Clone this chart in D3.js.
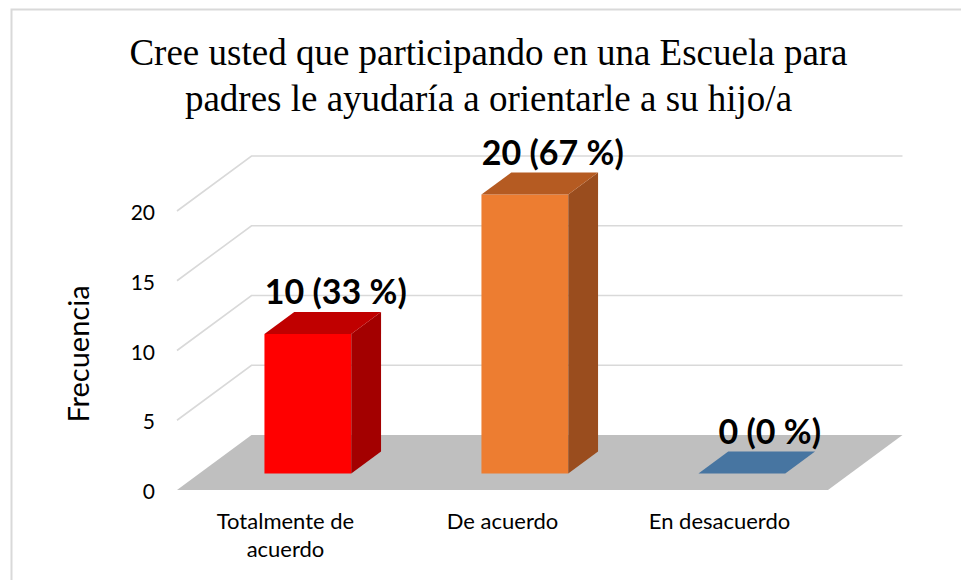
<!DOCTYPE html>
<html><head><meta charset="utf-8">
<script src="https://cdn.jsdelivr.net/npm/d3@7"></script>
<style>
html,body{margin:0;padding:0;background:#fff;}
svg{display:block;}
</style></head>
<body>
<svg id="chart" width="961" height="580"></svg>
<script>
const titleLines = ["Cree usted que participando en una Escuela para", "padres le ayudaría a orientarle a su hijo/a"];
const categories = ["Totalmente de acuerdo", "De acuerdo", "En desacuerdo"];
const categoryLines = [["Totalmente de", "acuerdo"], ["De acuerdo"], ["En desacuerdo"]];
const values = [10, 20, 0];
const percents = [33, 67, 0];
const yTicks = [0, 5, 10, 15, 20];
const yTitle = "Frecuencia";
const frontColors = ["#ff0000", "#ed7d31", "#5b9bd5"];
const topColors = ["#c00000", "#b55b22", "#4775a1"];
const sideColors = ["#a30000", "#9a4d1e", "#3a6189"];

const svg = d3.select("#chart");
const W = 961, H = 580;

// frame
svg.append("rect").attr("x", 11.5).attr("y", 9.5).attr("width", W + 20).attr("height", H + 20)
  .attr("fill", "none").attr("stroke", "#d9d9d9").attr("stroke-width", 2);

// geometry
const frontLeft = 177, frontRight = 828;
const depthDX = 74.5, depthDY = 55;
const x = d3.scaleBand().domain(categories).range([frontLeft, frontRight]).paddingInner(0).paddingOuter(0);
const y = d3.scaleLinear().domain([0, 20]).range([490, 211]);
const proj = (px, py, d) => [px + d * depthDX, py - d * depthDY];
const line = d3.line();

// gridlines (left wall diagonal + back wall)
const grid = svg.append("g");
yTicks.filter(v => v > 0).forEach(v => {
  const p0 = [frontLeft, y(v)];
  const p1 = proj(frontLeft, y(v), 1);
  const p2 = proj(frontRight, y(v), 1);
  grid.append("path").attr("d", line([p0, p1, p2]))
    .attr("fill", "none").attr("stroke", "#d9d9d9").attr("stroke-width", 1.6);
});

// floor
const floorPts = [[frontLeft, y(0)], [frontRight, y(0)], proj(frontRight, y(0), 1), proj(frontLeft, y(0), 1)];
svg.append("path").attr("d", line(floorPts) + "Z").attr("fill", "#bfbfbf");

// bars
const d0 = 0.3, d1 = 0.7, barFrac = 0.4;
const bars = svg.append("g");
values.forEach((v, i) => {
  const bw = x.bandwidth() * barFrac;
  const xl = x(categories[i]) + (x.bandwidth() - bw) / 2;
  const xr = xl + bw;
  const fb = proj(xl, y(0), d0), fbr = proj(xr, y(0), d0);
  const ft = proj(xl, y(v), d0), ftr = proj(xr, y(v), d0);
  const bt = proj(xl, y(v), d1), btr = proj(xr, y(v), d1);
  const bbr = proj(xr, y(0), d1);
  if (v > 0) {
    bars.append("path").attr("d", line([fb, fbr, ftr, ft]) + "Z").attr("fill", frontColors[i]);
    bars.append("path").attr("d", line([fbr, bbr, btr, ftr]) + "Z").attr("fill", sideColors[i]);
  }
  bars.append("path").attr("d", line([ft, ftr, btr, bt]) + "Z").attr("fill", topColors[i]);
  // data label
  const cx = (ft[0] + btr[0]) / 2 + 13;
  svg.append("text").attr("x", cx).attr("y", bt[1] - 8)
    .attr("text-anchor", "middle")
    .attr("font-family", "Lato, 'Open Sans', sans-serif").attr("font-weight", "bold")
    .attr("font-size", 34).attr("fill", "#000")
    .text(`${v} (${percents[i]} %)`);
});

// y axis
const yAxis = d3.axisLeft(y).tickValues(yTicks).tickSize(0).tickPadding(0).tickFormat(d3.format("d"));
const ya = svg.append("g").attr("transform", "translate(155,2)").call(yAxis);
ya.select(".domain").remove();
ya.selectAll("text").attr("font-family", "Lato, sans-serif").attr("font-size", 21).attr("fill", "#000");

// x axis labels
const xAxis = d3.axisBottom(x).tickSize(0).tickPadding(0);
const xa = svg.append("g").attr("transform", `translate(0,${y(0)})`).call(xAxis);
xa.select(".domain").remove();
xa.selectAll(".tick text").each(function(d, i) {
  const t = d3.select(this);
  t.text(null).attr("y", 0).attr("dy", null)
    .attr("font-family", "Lato, sans-serif").attr("font-size", 22).attr("fill", "#000");
  categoryLines[i].forEach((ln, k) => {
    t.append("tspan").attr("x", 0).attr("y", 39 + k * 28).text(ln);
  });
});

// y title
svg.append("text").attr("transform", "translate(89,354) rotate(-90)")
  .attr("text-anchor", "middle").attr("font-family", "Lato, sans-serif").attr("font-size", 29)
  .attr("fill", "#000").text(yTitle);

// title
titleLines.forEach((t, k) => {
  svg.append("text").attr("x", 488.5).attr("y", 65 + k * 46)
    .attr("text-anchor", "middle").attr("font-family", "'Liberation Serif', 'Times New Roman', serif")
    .attr("font-size", 37).attr("fill", "#000").text(t);
});
</script>
</body></html>
